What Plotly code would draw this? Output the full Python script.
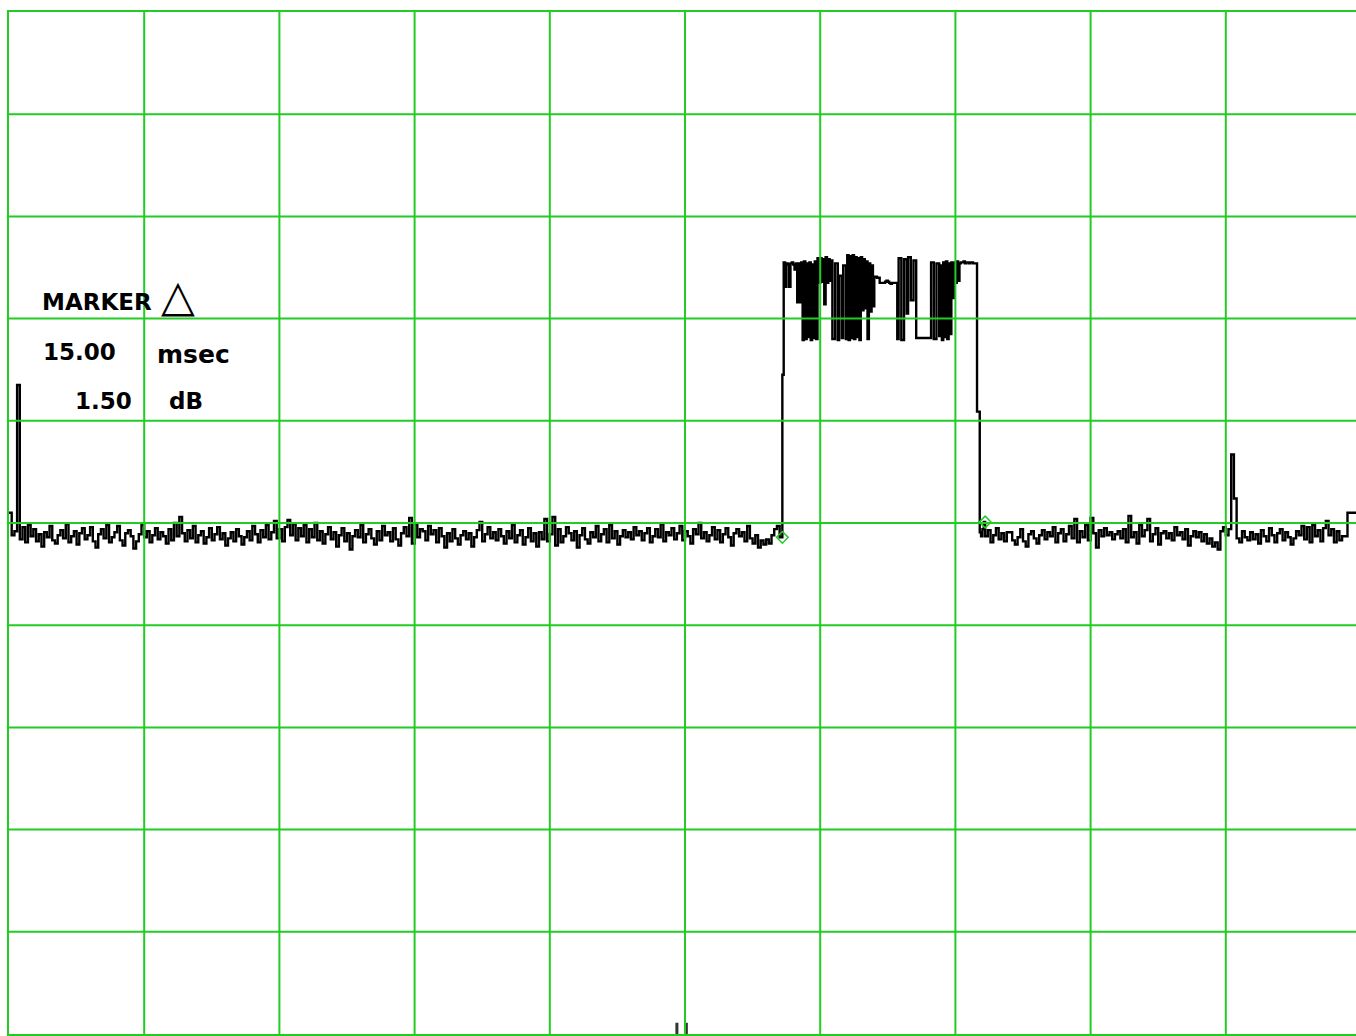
import plotly.graph_objects as go

# Sweep: 10 ms/div over 100 ms, 10 dB/div. Noise floor sampled every 0.2 ms,
# burst sampled every 0.1 ms.
lead_db = [
    -49.0, -49.0, -51.2, -50.8, -36.5, -51.6, -50.4, -51.9, -50.2, -51.3,
    -50.6, -51.8, -51.1, -52.3, -50.9, -51.4, -50.3, -51.7, -52.0, -51.2,
    -50.7, -51.5, -50.1, -51.9, -51.3, -50.8, -52.1, -51.0, -50.5, -51.6,
    -51.2, -50.4, -51.8, -52.4, -51.1, -50.6, -51.5, -50.2, -51.9, -51.4,
    -50.9, -50.3, -51.7, -52.2, -51.0, -50.7, -51.3, -52.5, -51.8, -51.1,
    -50.2, -51.4, -50.8, -51.9, -51.2, -50.5, -51.6, -50.9, -51.3, -52.0,
    -50.6, -51.7, -50.0, -51.3, -49.4, -51.0, -51.8, -50.7, -51.5, -50.3,
    -51.9, -51.2, -50.8, -52.0, -51.4, -50.5, -51.7, -51.1, -50.4, -51.6,
    -51.0, -52.2, -51.5, -50.9, -51.8, -50.6, -51.3, -52.1, -51.4, -50.8,
    -51.7, -50.3, -51.1, -51.9, -50.7, -51.4, -50.2, -51.6, -50.9, -49.8,
    -51.5, -50.6, -51.8, -50.4, -49.7, -51.2, -50.1, -51.7, -50.5, -51.3,
    -50.2, -51.9, -50.6, -51.4, -50.0, -51.7, -50.8, -52.0, -51.1, -50.4,
    -51.6, -50.9, -52.3, -51.2, -50.5, -51.8, -51.0, -52.6, -51.3, -50.7,
    -51.4, -50.2, -51.9, -51.1, -50.6, -51.5, -52.1, -50.8, -51.7, -50.3,
    -51.2, -50.9, -51.8, -50.5, -51.6, -52.2, -51.0, -50.4, -51.3, -49.5,
    -52.0, -50.1, -51.4, -50.6, -50.8, -51.7, -50.3, -51.1, -50.7, -51.9,
    -50.5, -51.3, -52.4, -51.0, -51.8, -50.6, -51.5, -52.1, -51.2, -50.8,
    -51.6, -51.0, -52.3, -51.4, -50.7, -49.9, -51.8, -51.1, -50.4, -51.5,
    -50.9, -51.7, -50.6, -51.3, -52.0, -50.8, -51.5, -50.2, -51.9, -51.2,
    -50.7, -52.1, -51.4, -50.5, -51.8, -51.0, -52.3, -50.9, -51.6, -49.6,
    -51.8, -51.1, -49.4, -52.2, -50.6, -51.9, -51.3, -50.4, -51.0, -51.7,
    -50.8, -52.4, -51.2, -50.5, -51.6, -52.0, -50.9, -51.4, -50.3, -51.8,
    -51.1, -50.6, -51.9, -50.2, -51.5, -50.8, -52.1, -51.3, -50.7, -51.4,
    -50.9, -51.6, -50.4, -51.2, -50.8, -51.7, -51.0, -50.5, -51.9, -51.3,
    -50.6, -51.4, -50.1, -51.8, -50.9, -51.2, -50.5, -51.6, -51.0, -50.3,
    -51.7, -50.8, -51.3, -52.0, -50.6, -51.1, -50.0, -51.5, -50.9, -51.8,
    -51.2, -50.4, -51.6, -50.7, -51.9, -51.1, -50.5, -51.4, -52.2, -51.0,
    -50.6, -51.3, -50.9, -51.8, -50.3, -51.5, -52.0, -51.2, -52.4, -51.7,
    -52.1, -51.6, -52.0, -51.2, -50.6, -50.3, -51.4,
]
pulse_db = [
    -35.5, -24.5, -26.9, -24.6, -24.7, -26.9, -24.6, -24.5, -24.7, -25.2,
    -24.6, -28.4, -24.6, -28.4, -24.5, -32.1, -24.4, -32.0, -24.6, -31.8,
    -24.5, -32.1, -24.7, -31.9, -24.4, -32.0, -24.1, -26.5, -24.1, -26.4,
    -24.2, -28.6, -24.0, -26.5, -24.2, -26.3, -24.3, -32.0, -32.0, -24.6,
    -24.6, -32.1, -25.8, -25.8, -31.9, -24.8, -24.8, -32.0, -23.8, -32.1,
    -23.9, -31.9, -23.8, -32.0, -24.0, -31.8, -24.1, -32.1, -24.0, -29.2,
    -24.2, -29.0, -24.4, -32.0, -24.6, -29.3, -24.8, -28.8, -25.9, -25.9,
    -26.0, -26.0, -26.5, -26.5, -26.5, -26.5, -26.4, -26.3, -26.4, -26.5,
    -26.6, -26.5, -26.5, -26.5, -26.5, -32.0, -24.1, -24.1, -32.1, -32.1,
    -24.2, -24.2, -29.5, -24.0, -24.0, -28.2, -28.2, -24.3, -24.3, -31.9,
    -31.9, -31.9, -31.9, -31.9, -31.9, -31.9, -31.9, -31.9, -31.9, -31.9,
    -24.5, -24.5, -32.0, -32.0, -24.6, -24.6, -31.7, -24.8, -32.1, -24.5,
    -31.8, -24.4, -32.0, -24.6, -31.5, -24.5, -28.0, -24.5, -26.5, -24.4,
    -26.3, -24.6, -24.5, -24.5, -24.4, -24.6, -24.5, -24.5, -24.6, -24.5,
    -24.5, -24.6, -24.6, -24.6, -39.1, -39.1, -50.9, -51.3, -50.6,
]
tail_db = [
    -49.9, -51.3, -50.7, -51.9, -51.2, -50.5, -51.6, -51.0, -51.8,
    -50.9, -50.9, -51.7, -52.1, -51.4, -50.6, -51.8, -52.3, -51.1, -50.8,
    -51.5, -52.0, -51.2, -50.7, -51.6, -50.9, -51.3, -50.4, -51.9, -51.0,
    -50.6, -51.8, -51.1, -50.3, -51.5, -49.6, -51.9, -50.8, -51.4, -50.2,
    -51.7, -49.5, -51.0, -52.4, -50.7, -51.3, -50.5, -51.2, -50.9, -51.6,
    -51.1, -50.8, -51.5, -50.6, -51.9, -49.3, -51.4, -50.9, -52.0, -50.2,
    -51.3, -50.7, -49.6, -51.8, -51.1, -50.5, -52.1, -51.0, -50.8, -51.5,
    -51.0, -51.7, -50.4, -51.2, -50.9, -51.6, -50.6, -52.2, -51.3, -50.8,
    -51.4, -50.9, -51.8, -51.1, -52.0, -51.5, -52.3, -51.9, -52.6, -50.8,
    -50.4, -51.2, -50.6, -43.3, -47.6, -51.5, -51.9, -50.8, -51.4, -51.7,
    -50.9, -51.6, -51.1, -52.0, -50.7, -51.3, -51.8, -50.5, -51.2, -51.9,
    -51.0, -50.6, -51.7, -50.9, -51.4, -52.1, -51.5, -50.8, -51.2, -50.3,
    -51.6, -50.4, -51.9, -50.2, -51.3, -50.7, -51.8, -50.5, -49.8, -51.2,
    -50.6, -51.9, -50.8, -51.7, -51.3, -51.3, -49.0, -49.0, -49.0, -49.0,
    -49.0,
]
lead_ms = [round(0.2 * i, 1) for i in range(len(lead_db))]              # 0.0 .. 57.2
pulse_ms = [round(57.3 + 0.1 * i, 1) for i in range(len(pulse_db))]    # 57.3 .. 72.1
tail_ms = [round(72.2 + 0.2 * i, 1) for i in range(len(tail_db))]      # 72.2 .. 100.0

time_ms = lead_ms + pulse_ms + tail_ms
trace_db = lead_db + pulse_db + tail_db

# Marker pair (reference and delta)
marker_ms = [57.2, 72.2]
delta_time_text = "15.00"
delta_level_text = "1.50"

# Short ticks resting on the bottom graticule line
bottom_tick_ms = [49.4, 50.1]
bottom_tick_top_db = -98.9

GREEN = "#22cc22"
X_MAX = 99.63  # visible span of the 10-division sweep
Y_MIN, Y_MAX = -100, 0

fig = go.Figure()

fig.add_trace(go.Scatter(
    x=time_ms, y=trace_db, mode="lines",
    line=dict(color="black", width=2.4, shape="vh"),
    hoverinfo="skip", showlegend=False,
))

tick_x, tick_y = [], []
for t in bottom_tick_ms:
    tick_x += [t, t, None]
    tick_y += [bottom_tick_top_db, Y_MIN, None]
fig.add_trace(go.Scatter(
    x=tick_x, y=tick_y, mode="lines",
    line=dict(color="#333333", width=3),
    hoverinfo="skip", showlegend=False,
))

level_at = dict(zip(time_ms, trace_db))
fig.add_trace(go.Scatter(
    x=marker_ms, y=[level_at[t] for t in marker_ms], mode="markers",
    marker=dict(symbol="diamond-open", size=9, color=GREEN, line=dict(width=1.5, color=GREEN)),
    hoverinfo="skip", showlegend=False,
))

# Graticule drawn above the trace
shapes = []
for gx in range(10, 100, 10):
    shapes.append(dict(type="line", xref="x", yref="paper", x0=gx, x1=gx, y0=0, y1=1,
                       line=dict(color=GREEN, width=2), layer="above"))
for gy in range(-90, 0, 10):
    shapes.append(dict(type="line", xref="paper", yref="y", x0=0, x1=1, y0=gy, y1=gy,
                       line=dict(color=GREEN, width=2), layer="above"))

axis_common = dict(showgrid=False, zeroline=False, showticklabels=False, ticks="",
                   showline=True, linecolor=GREEN, linewidth=2)

fig.update_layout(
    width=1356, height=1036,
    margin=dict(l=9, r=0, t=12, b=2),
    paper_bgcolor="white", plot_bgcolor="white",
    xaxis=dict(range=[0, X_MAX], mirror=True, **axis_common),
    yaxis=dict(range=[Y_MIN, Y_MAX], mirror=False, **axis_common),
    shapes=shapes,
)

txt_font = dict(family="DejaVu Sans", size=23, color="black", weight="bold")
W, H = 1347.0, 1022.0


def px(x):
    return (x - 9) / W


def py(y):
    return (1034 - y) / H


annos = [
    dict(text="MARKER", x=px(40), y=py(302), xanchor="left"),
    dict(text="△", x=px(178), y=py(295), xanchor="center", size=44),
    dict(text=delta_time_text, x=px(41), y=py(352), xanchor="left"),
    dict(text="msec", x=px(155), y=py(354), xanchor="left", size=25),
    dict(text=delta_level_text, x=px(134), y=py(401), xanchor="right"),
    dict(text="dB", x=px(167), y=py(401), xanchor="left"),
]
for a in annos:
    f = dict(txt_font)
    if "size" in a:
        f["size"] = a.pop("size")
        if a["text"] == "△":
            f["weight"] = "normal"
    fig.add_annotation(xref="paper", yref="paper", yanchor="middle", showarrow=False,
                       font=f, **a)

fig.write_html("out.html")
